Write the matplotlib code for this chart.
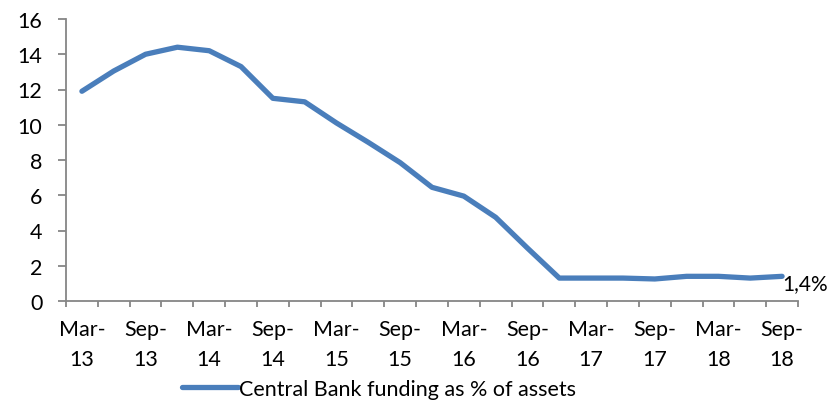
import matplotlib
matplotlib.use("Agg")
import matplotlib.pyplot as plt
from matplotlib.ticker import FixedLocator, NullFormatter

plt.rcParams['font.family'] = ['Lato', 'DejaVu Sans']

quarters = ["Mar-13", "Jun-13", "Sep-13", "Dec-13", "Mar-14", "Jun-14", "Sep-14", "Dec-14",
            "Mar-15", "Jun-15", "Sep-15", "Dec-15", "Mar-16", "Jun-16", "Sep-16", "Dec-16",
            "Mar-17", "Jun-17", "Sep-17", "Dec-17", "Mar-18", "Jun-18", "Sep-18"]
funding = [11.9, 13.05, 14.0, 14.4, 14.2, 13.3, 11.5, 11.3,
           10.1, 9.0, 7.85, 6.45, 5.95, 4.75, 3.0, 1.3,
           1.3, 1.3, 1.25, 1.4, 1.4, 1.3, 1.4]
series_label = "Central Bank funding as % of assets"
end_label = "1,4%"
yticks = [0, 2, 4, 6, 8, 10, 12, 14, 16]

fig = plt.figure(figsize=(8.31, 4.02), dpi=100)
ax = fig.add_axes([66/831, 1-302/402, (798-66)/831, (302-20)/402])

x = list(range(len(quarters)))
line, = ax.plot(x, funding, color='#4a7ebb', lw=3.8, solid_joinstyle='round',
                solid_capstyle='round', label=series_label)

ax.set_xlim(-0.5, len(quarters) - 0.5)
ax.set_ylim(0, 16)
ax.set_yticks(yticks)

label_pos = x[::2]
ax.set_xticks(label_pos)
ax.set_xticklabels([q.replace("-", "-\n") for q in quarters[::2]], linespacing=1.6)
ax.tick_params(axis='x', which='major', length=0, pad=13, labelsize=15.5)
ax.xaxis.set_minor_locator(FixedLocator([i - 0.5 for i in range(len(quarters) + 1)]))
ax.xaxis.set_minor_formatter(NullFormatter())
ax.tick_params(axis='x', which='minor', length=4.5, width=1.3, color='#868686', direction='out')
ax.tick_params(axis='y', length=6, width=1.3, color='#868686', labelsize=15.5, pad=11)

for s in ['top', 'right']:
    ax.spines[s].set_visible(False)
for s in ['left', 'bottom']:
    ax.spines[s].set_color('#868686')
    ax.spines[s].set_linewidth(1.3)

ax.annotate(end_label, xy=(x[-1], funding[-1]), xytext=(0, -5), textcoords='offset points',
            ha='left', va='center', fontsize=15)

fig.legend(handles=[line], loc='center left', bbox_to_anchor=(182/831, 1-390/402),
           frameon=False, fontsize=15.5, handlelength=2.6, handletextpad=0.05,
           borderpad=0, borderaxespad=0)

fig.savefig("out.png", dpi=100)
